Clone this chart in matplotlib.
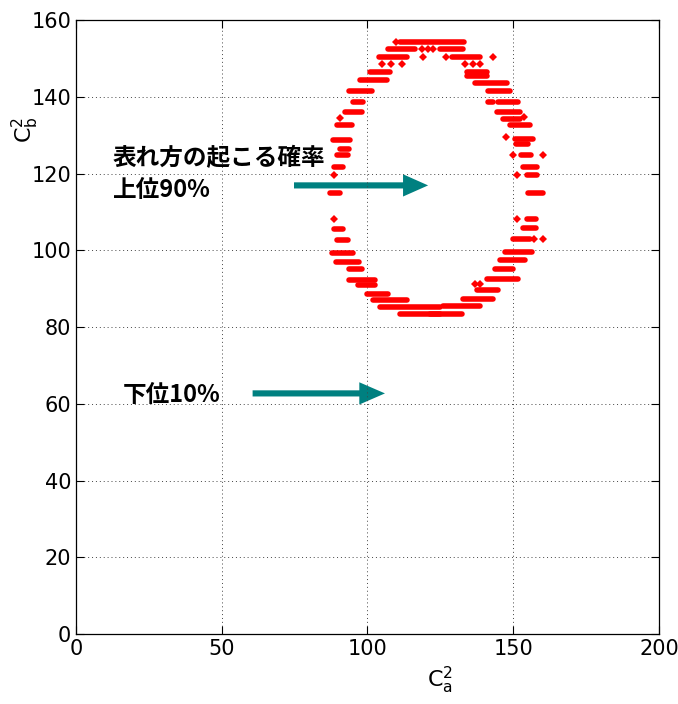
import matplotlib
matplotlib.use("Agg")
import matplotlib.pyplot as plt

plt.rcParams['font.family'] = ['DejaVu Sans']
plt.rcParams['mathtext.fontset'] = 'dejavusans'

# horizontal runs of dense points: (y, x from, x to)
run_y = [154.3, 152.5, 152.5, 150.3, 150.3, 146.4, 146.4, 144.4, 145.5, 143.5,
         141.5, 141.5, 138.7, 138.6, 138.6,
         136.0, 132.7, 128.6, 126.5, 124.7, 121.7, 114.8,
         105.6, 102.8, 99.3, 97.0, 95.2, 92.2, 90.9, 88.7, 87.0, 85.2, 83.5,
         108.2, 105.9, 103.0, 99.6, 97.4, 95.2, 92.4, 89.6, 87.4, 85.4, 83.5,
         136.0, 134.2, 132.6, 129.1, 127.8, 124.7, 121.7, 119.5, 114.8]
run_x0 = [111.0, 107.1, 124.9, 104.0, 128.9, 100.9, 134.0, 97.4, 134.0, 137.0,
          93.8, 141.3, 95.0, 144.9, 141.3,
          92.3, 89.4, 88.3, 90.5, 89.4, 88.5, 87.1,
          88.5, 89.6, 87.7, 89.2, 93.8, 93.8, 96.8, 99.7, 102.0, 104.3, 111.1,
          154.6, 153.2, 150.0, 147.2, 145.5, 143.7, 140.9, 137.5, 132.9, 126.0, 121.4,
          144.3, 146.6, 148.9, 150.6, 151.0, 152.6, 153.5, 154.6, 155.2]
run_x1 = [133.0, 116.3, 132.9, 113.7, 138.6, 107.7, 140.9, 106.6, 141.0, 147.7,
          101.4, 148.9, 98.5, 151.7, 143.0,
          98.0, 94.6, 94.0, 93.5, 93.4, 91.7, 90.6,
          91.5, 93.4, 95.1, 97.2, 98.0, 102.6, 102.6, 107.1, 113.4, 124.9, 124.9,
          157.8, 157.8, 155.7, 156.3, 154.0, 150.0, 151.7, 144.9, 143.2, 138.6, 132.3,
          152.3, 152.3, 155.7, 156.9, 155.0, 156.0, 158.0, 158.0, 160.3]

# isolated points
dot_x = [109.8, 118.6, 120.9, 122.6, 119.1, 127.1, 143.2, 104.9, 108.1, 111.7,
         133.4, 136.3, 138.6, 90.6, 88.5, 88.5, 151.4, 157.1, 160.3, 136.9,
         138.6, 153.7, 147.5, 149.8, 160.1, 151.4]
dot_y = [154.3, 152.5, 152.5, 152.5, 150.3, 150.3, 150.3, 148.5, 148.5, 148.5,
         148.5, 148.5, 148.5, 134.5, 119.5, 108.2, 108.2, 103.0, 103.0, 91.1,
         91.1, 134.7, 129.5, 124.7, 124.7, 119.5]

fig = plt.figure(figsize=(6.78, 7.04), dpi=100)
ax = fig.add_axes([0.112, 0.0994, 0.86, 0.8722])

runs = ax.hlines(run_y, run_x0, run_x1, colors='#ff0000', linewidth=4.0)
runs.set_capstyle('round')
ax.plot(dot_x, dot_y, 'D', color='#ff0000', markersize=4.2, markeredgewidth=0)

# arrows
teal = '#008080'
ax.arrow(74.8, 116.9, 120.8 - 74.8, 0, width=1.6, head_width=5.8, head_length=8.6,
         length_includes_head=True, color=teal, linewidth=0)
ax.arrow(60.6, 62.7, 106.0 - 60.6, 0, width=1.6, head_width=5.8, head_length=8.8,
         length_includes_head=True, color=teal, linewidth=0)

cjk = ['Noto Sans CJK JP', 'DejaVu Sans']
ax.text(12.7, 124.0, '表れ方の起こる確率', family=cjk, fontsize=17, fontweight='bold',
        va='center', ha='left')
ax.text(12.7, 115.6, '上位90%', family=cjk, fontsize=17, fontweight='bold',
        va='center', ha='left')
ax.text(16.2, 62.2, '下位10%', family=cjk, fontsize=17, fontweight='bold',
        va='center', ha='left')

ax.set_xlim(0, 200)
ax.set_ylim(0, 160)
ax.set_xticks([0, 50, 100, 150, 200])
ax.set_yticks(range(0, 161, 20))
ax.tick_params(direction='in', length=6, width=0.8, labelsize=15,
               top=True, right=True)
ax.grid(True, color='#444444', linestyle=(0, (1, 3)), linewidth=0.7)
for s in ax.spines.values():
    s.set_linewidth(0.9)

ax.text(0.624, -0.075, r'$\mathrm{C}_{\mathrm{a}}^{2}$', transform=ax.transAxes,
        fontsize=16, ha='center', va='center')
ax.text(-0.0875, 0.821, r'$\mathrm{C}_{\mathrm{b}}^{2}$', transform=ax.transAxes,
        fontsize=16, ha='center', va='center', rotation=90)

plt.savefig('out.png', dpi=100)
